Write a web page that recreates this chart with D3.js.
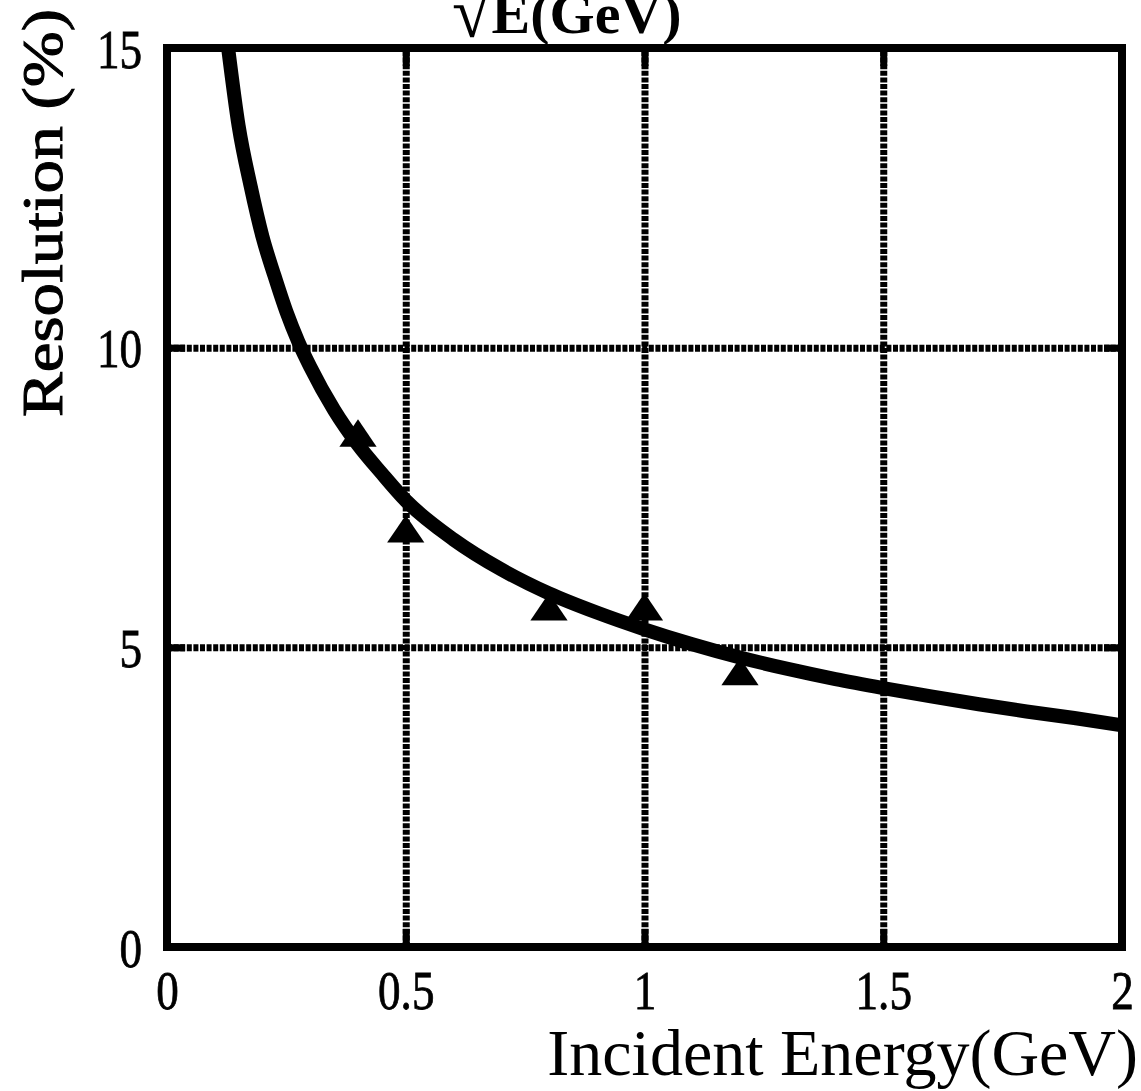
<!DOCTYPE html>
<html>
  <head>
    <meta charset="utf-8">
    <script src="https://d3js.org/d3.v7.min.js"></script>
    <style>
      body { margin: 0; background: #fff; }
      text { font-family: "Liberation Serif", "Times New Roman", serif; fill: #000; }
    </style>
  </head>
  <body>
    <script type="text/javascript">
      // tick values
      var xTicks = [0, 0.5, 1, 1.5, 2];
      var yTicks = [0, 5, 10, 15];
      var xGrid = [0.5, 1, 1.5];
      var yGrid = [5, 10];

      // measured points (triangles)
      var pointE   = [0.40, 0.50, 0.80, 1.00, 1.20];
      var pointRes = [8.50, 6.90, 5.60, 5.60, 4.52];

      // fitted curve
      var fitE   = [0.128, 0.15, 0.175, 0.2, 0.225, 0.25, 0.275, 0.3, 0.35, 0.4, 0.45, 0.5,
                    0.6, 0.7, 0.8, 0.9, 1.0, 1.1, 1.2, 1.3, 1.4, 1.5, 1.6, 1.7, 1.8, 1.9, 2.0];
      var fitRes = [15.0, 13.7, 12.7, 11.85, 11.2, 10.6, 10.1, 9.68, 8.96, 8.38, 7.9, 7.45,
                    6.8, 6.3, 5.9, 5.58, 5.3, 5.05, 4.83, 4.64, 4.47, 4.32, 4.18, 4.05, 3.93, 3.82, 3.7];

      function draw() {
        "use strict";
        var W = 1141, H = 1091;
        var mLeft = 167, mRight = 1122, mTop = 48, mBottom = 947;
        var pw = mRight - mLeft, ph = mBottom - mTop;

        var svg = d3.select("body").append("svg")
            .attr("width", W).attr("height", H);

        var x = d3.scaleLinear().domain([0, 2]).range([0, pw]);
        var y = d3.scaleLinear().domain([0, 15]).range([ph, 0]);

        var g = svg.append("g").attr("transform", "translate(" + mLeft + "," + mTop + ")");

        g.append("clipPath").attr("id", "plotclip")
          .append("rect").attr("width", pw).attr("height", ph);

        // dotted grid lines
        g.append("g").attr("class", "grid")
            .attr("transform", "translate(0," + ph + ")")
            .call(d3.axisBottom(x).tickValues(xGrid).tickSize(-ph).tickFormat(""));
        g.append("g").attr("class", "grid")
            .call(d3.axisLeft(y).tickValues(yGrid).tickSize(-pw).tickFormat(""));
        g.selectAll(".grid .domain").remove();
        g.selectAll(".grid line")
            .attr("stroke", "#000")
            .attr("stroke-width", 7)
            .attr("stroke-dasharray", "5,1.6");

        // short solid ticks inside the frame
        var tl = 18;
        g.append("g").attr("class", "tk").attr("transform", "translate(0," + ph + ")")
          .call(d3.axisBottom(x).tickValues(xGrid).tickSize(-tl).tickFormat(""));
        g.append("g").attr("class", "tk")
          .call(d3.axisTop(x).tickValues(xGrid).tickSize(-tl).tickFormat(""));
        g.append("g").attr("class", "tk")
          .call(d3.axisLeft(y).tickValues(yGrid).tickSize(-tl).tickFormat(""));
        g.append("g").attr("class", "tk").attr("transform", "translate(" + pw + ",0)")
          .call(d3.axisRight(y).tickValues(yGrid).tickSize(-tl).tickFormat(""));
        g.selectAll(".tk .domain").remove();
        g.selectAll(".tk line").attr("stroke", "#000").attr("stroke-width", 7);

        // fit curve
        var line = d3.line()
            .x(function (d) { return x(d[0]); })
            .y(function (d) { return y(d[1]); })
            .curve(d3.curveMonotoneX);
        g.append("path")
            .datum(fitE.map(function (e, i) { return [e, fitRes[i]]; }))
            .attr("clip-path", "url(#plotclip)")
            .attr("d", line)
            .attr("fill", "none")
            .attr("stroke", "#000")
            .attr("stroke-width", 14)
            .attr("stroke-linejoin", "round");

        // triangles
        var tri = d3.symbol().type(d3.symbolTriangle).size(600);
        g.selectAll(".pt")
            .data(pointE.map(function (e, i) { return [e, pointRes[i]]; }))
            .enter().append("path")
            .attr("class", "pt")
            .attr("d", tri)
            .attr("transform", function (d) {
              return "translate(" + x(d[0]) + "," + y(d[1]) + ") scale(1,0.85)";
            })
            .attr("fill", "#000");

        // frame
        g.append("rect")
            .attr("width", pw).attr("height", ph)
            .attr("fill", "none").attr("stroke", "#000").attr("stroke-width", 8);

        // tick labels
        var ax = g.append("g").attr("transform", "translate(0," + ph + ")")
            .call(d3.axisBottom(x).tickValues(xTicks).tickSize(0)
                  .tickFormat(function (d) { return String(d); }));
        var ay = g.append("g")
            .call(d3.axisLeft(y).tickValues(yTicks).tickSize(0));
        ax.select(".domain").remove();
        ay.select(".domain").remove();
        ax.selectAll("text")
            .attr("y", 0).attr("dy", 0)
            .attr("transform", "translate(0,62) scale(0.82,1)")
            .style("font-size", "55px")
            .style("font-family", "Liberation Serif, serif")
            .attr("fill", "#000").attr("stroke", "#000").attr("stroke-width", 0.8);
        ay.selectAll("text")
            .attr("x", 0).attr("dy", "0.35em")
            .attr("transform", "translate(-25,0) scale(0.82,1)")
            .style("font-size", "55px")
            .style("font-family", "Liberation Serif, serif")
            .attr("fill", "#000").attr("stroke", "#000").attr("stroke-width", 0.8);

        // axis titles
        svg.append("text")
            .attr("transform", "translate(62,213) rotate(-90)")
            .attr("text-anchor", "middle")
            .attr("textLength", 408)
            .attr("lengthAdjust", "spacingAndGlyphs")
            .attr("stroke", "#000").attr("stroke-width", 1)
            .style("font-size", "56px")
            .text("Resolution (%)");

        svg.append("text")
            .attr("x", 1138).attr("y", 1075)
            .attr("text-anchor", "end")
            .style("font-size", "66px")
            .text("Incident Energy(GeV)");

        // cut-off formula denominator at the top
        var t = svg.append("text")
            .attr("x", 452).attr("y", 33)
            .style("font-size", "58px")
            .style("font-weight", "bold");
        t.append("tspan").style("font-size", "72px").style("font-weight", "normal")
            .attr("dy", 4).text("\u221A");
        t.append("tspan").attr("dy", -4).text("E(GeV)");
      }

      draw();
    </script>
  </body>
</html>
